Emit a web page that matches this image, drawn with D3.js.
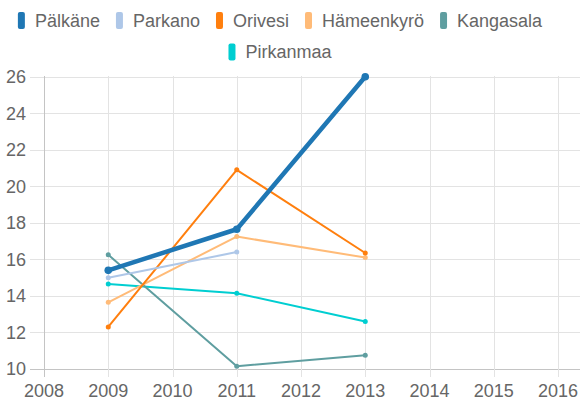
<!DOCTYPE html>
<html>
<head>
<meta charset="utf-8">
<script src="https://cdn.jsdelivr.net/npm/d3@7"></script>
<style>
  body { margin: 0; background: #fff; }
  svg { display: block; font-family: "Liberation Sans", Arial, sans-serif; }
</style>
</head>
<body>
<svg id="chart" width="581" height="400"></svg>
<script>
// data
const years = [2009, 2011, 2013];
const seriesNames = ['Pälkäne', 'Parkano', 'Orivesi', 'Hämeenkyrö', 'Kangasala', 'Pirkanmaa'];
const palkane = [15.4, 17.65, 26.0];
const parkano = [15.0, 16.4, null];
const orivesi = [12.3, 20.9, 16.35];
const hameenkyro = [13.65, 17.25, 16.1];
const kangasala = [16.25, 10.15, 10.75];
const pirkanmaa = [14.65, 14.15, 12.6];
const xTicks = [2008, 2009, 2010, 2011, 2012, 2013, 2014, 2015, 2016];
const yTicks = [10, 12, 14, 16, 18, 20, 22, 24, 26];

const colors = ['#1f77b4', '#aec7e8', '#ff7f0e', '#ffbb78', '#5f9ea0', '#00ced1'];
const values = [palkane, parkano, orivesi, hameenkyro, kangasala, pirkanmaa];

const series = seriesNames.map((name, i) => ({
  name: name,
  color: colors[i],
  width: i === 0 ? 4.5 : 2,
  r: i === 0 ? 3.8 : 2.5,
  points: years.map((y, j) => ({year: y, val: values[i][j]})).filter(p => p.val !== null)
}));

const svg = d3.select('#chart');
const W = 581;

const x = d3.scaleLinear().domain([2008, 2016]).range([44, 558]);
const y = d3.scaleLinear().domain([10, 26]).range([369, 76.7]);
const plotRight = 580;

// grid
const grid = svg.append('g');
grid.selectAll('.hg').data(yTicks).enter().append('line')
  .attr('x1', 30).attr('x2', plotRight)
  .attr('y1', d => Math.round(y(d)) + 0.5).attr('y2', d => Math.round(y(d)) + 0.5)
  .attr('stroke', d => d === 10 ? '#c4c4c4' : '#e3e3e3');
grid.selectAll('.vg').data(xTicks).enter().append('line')
  .attr('y1', 76).attr('y2', 377)
  .attr('x1', d => Math.round(x(d)) + 0.5).attr('x2', d => Math.round(x(d)) + 0.5)
  .attr('stroke', d => d === 2008 ? '#c4c4c4' : '#e3e3e3');

// axis labels
svg.append('g').selectAll('text').data(yTicks).enter().append('text')
  .attr('x', 26).attr('y', d => y(d) + 6.3)
  .attr('text-anchor', 'end')
  .attr('font-size', 18).attr('fill', '#666')
  .text(d => d);
svg.append('g').selectAll('text').data(xTicks).enter().append('text')
  .attr('x', d => x(d)).attr('y', 396.5)
  .attr('text-anchor', 'middle')
  .attr('font-size', 18).attr('fill', '#666')
  .text(d => d);

// lines, last drawn first so Pälkäne is on top
const line = d3.line().x(d => x(d.year)).y(d => y(d.val));
const lines = svg.append('g').selectAll('g').data(series.slice().reverse()).enter().append('g');
lines.append('path')
  .attr('d', d => line(d.points))
  .attr('fill', 'none')
  .attr('stroke', d => d.color)
  .attr('stroke-width', d => d.width)
  .attr('stroke-linejoin', 'round');
lines.selectAll('circle').data(d => d.points.map(p => ({p: p, s: d}))).enter().append('circle')
  .attr('cx', d => x(d.p.year)).attr('cy', d => y(d.p.val))
  .attr('r', d => d.s.r)
  .attr('fill', d => d.s.color);

// legend
const legendRows = [seriesNames.slice(0, 5), seriesNames.slice(5)];
const legendCenter = 280;
const legend = svg.append('g');
const meas = svg.append('text').attr('font-size', 18).attr('visibility', 'hidden');
legendRows.forEach((row, ri) => {
  const widths = row.map(n => { meas.text(n); return meas.node().getComputedTextLength(); });
  const total = d3.sum(widths) + row.length * 17 + (row.length - 1) * 16;
  let cx = legendCenter - total / 2;
  const cy = 20.5 + ri * 31.5;
  row.forEach((n, k) => {
    const i = seriesNames.indexOf(n);
    legend.append('rect')
      .attr('x', cx).attr('y', cy - 8.5).attr('width', 7).attr('height', 17)
      .attr('rx', 2).attr('fill', colors[i]);
    legend.append('text')
      .attr('x', cx + 17).attr('y', cy + 6.3)
      .attr('font-size', 18).attr('fill', '#666')
      .text(n);
    cx += 17 + widths[k] + 16;
  });
});
meas.remove();
</script>
</body>
</html>
